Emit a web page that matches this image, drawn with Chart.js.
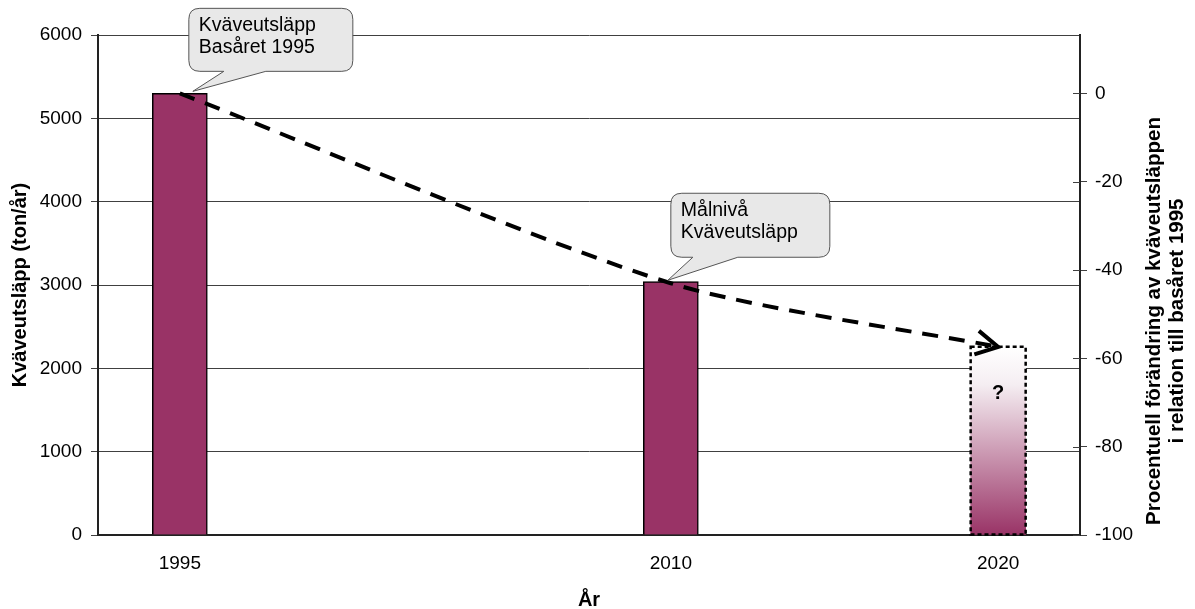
<!DOCTYPE html>
<html>
<head>
<meta charset="utf-8">
<script src="https://cdn.jsdelivr.net/npm/chart.js@4/dist/chart.umd.min.js"></script>
<style>
  html, body { margin: 0; padding: 0; background: #fff; }
  canvas { display: block; }
</style>
</head>
<body>
<canvas id="kvaveChart" width="1195" height="609"></canvas>
<script>
// Kväveutsläpp per år (ton/år)
const years = [1995, 2010, 2020];
const utslapp = [5300, 3040];
const prognos2020 = [2260];
// Procentuell förändring mot basåret 1995
const forandring = [0, -43, -57.4];
const vansterTicks = [0, 1000, 2000, 3000, 4000, 5000, 6000];
const hogerTicks = [-100, -80, -60, -40, -20, 0];

const FONT = "'Liberation Sans', Arial, sans-serif";
const PLOMMON = '#993366';
const LINJE = '#404040';

// högeraxeln följer vänsteraxeln: 0 % = basåret, -100 % = 0 ton
const hogerMax = (vansterTicks[vansterTicks.length - 1] / utslapp[0] - 1) * 100;

const pratbubblor = [
    { punkt: 0, text: ['Kväveutsläpp', 'Basåret 1995'], dx: 9, dy: -85, w: 164, h: 63, spets: [13, -2], fot: [35, 77] },
    { punkt: 1, text: ['Målnivå', 'Kväveutsläpp'], dx: 0, dy: -90, w: 159, h: 64, spets: [-3, -3], fot: [22, 67] }
];

function rundRekt(ctx, x, y, w, h, r) {
    ctx.moveTo(x + r, y);
    ctx.lineTo(x + w - r, y);
    ctx.quadraticCurveTo(x + w, y, x + w, y + r);
    ctx.lineTo(x + w, y + h - r);
    ctx.quadraticCurveTo(x + w, y + h, x + w - r, y + h);
}

const tillagg = {
    id: 'tillagg',
    afterDatasetsDraw(chart) {
        const ctx = chart.ctx;
        // streckad ram och frågetecken på prognosstapeln
        const stapel = chart.getDatasetMeta(1).data[0];
        const { x, y, base, width } = stapel.getProps(['x', 'y', 'base', 'width'], true);
        ctx.save();
        ctx.setLineDash([4, 3]);
        ctx.lineWidth = 2.5;
        ctx.strokeStyle = '#000';
        ctx.strokeRect(x - width / 2, y, width, base - y);
        ctx.setLineDash([]);
        ctx.fillStyle = '#000';
        ctx.font = 'bold 20px ' + FONT;
        ctx.textAlign = 'center';
        ctx.textBaseline = 'middle';
        ctx.fillText('?', x, y + 47);

        // pilspets i slutet av trendlinjen
        const pts = chart.getDatasetMeta(2).data;
        const slut = pts[pts.length - 1];
        const vinkel = Math.atan2(slut.y - slut.cp1y, slut.x - slut.cp1x);
        const len = 25;
        ctx.lineWidth = 4;
        ctx.lineCap = 'butt';
        ctx.lineJoin = 'miter';
        ctx.beginPath();
        ctx.moveTo(slut.x - len * Math.cos(vinkel - 0.5), slut.y - len * Math.sin(vinkel - 0.5));
        ctx.lineTo(slut.x, slut.y);
        ctx.lineTo(slut.x - len * Math.cos(vinkel + 0.5), slut.y - len * Math.sin(vinkel + 0.5));
        ctx.stroke();
        ctx.restore();
    },
    afterDraw(chart) {
        const ctx = chart.ctx;
        const area = chart.chartArea;
        const y2 = chart.scales.y2;
        ctx.save();

        // korta markeringar innanför högeraxeln
        ctx.strokeStyle = LINJE;
        ctx.lineWidth = 1;
        y2.ticks.forEach(t => {
            const py = Math.round(y2.getPixelForValue(t.value)) + 0.5;
            ctx.beginPath();
            ctx.moveTo(area.right - 7, py);
            ctx.lineTo(area.right, py);
            ctx.stroke();
        });

        // pratbubblor
        const pts = chart.getDatasetMeta(2).data;
        pratbubblor.forEach(b => {
            const p = pts[b.punkt];
            const bx = p.x + b.dx, by = p.y + b.dy, r = 11;
            ctx.beginPath();
            rundRekt(ctx, bx, by, b.w, b.h, r);
            ctx.lineTo(bx + b.fot[1], by + b.h);
            ctx.lineTo(p.x + b.spets[0], p.y + b.spets[1]);
            ctx.lineTo(bx + b.fot[0], by + b.h);
            ctx.lineTo(bx + r, by + b.h);
            ctx.quadraticCurveTo(bx, by + b.h, bx, by + b.h - r);
            ctx.lineTo(bx, by + r);
            ctx.quadraticCurveTo(bx, by, bx + r, by);
            ctx.closePath();
            ctx.fillStyle = '#e8e8e8';
            ctx.fill();
            ctx.strokeStyle = '#555';
            ctx.lineWidth = 1;
            ctx.stroke();
            ctx.fillStyle = '#000';
            ctx.font = '19.5px ' + FONT;
            ctx.textAlign = 'left';
            ctx.textBaseline = 'alphabetic';
            ctx.fillText(b.text[0], bx + 10, by + 23);
            ctx.fillText(b.text[1], bx + 10, by + 45);
        });

        // titel för högeraxeln, läses nerifrån och upp
        ctx.translate(1166, 321);
        ctx.rotate(-Math.PI / 2);
        ctx.font = 'bold 20.5px ' + FONT;
        ctx.textAlign = 'center';
        ctx.textBaseline = 'middle';
        ctx.fillText('Procentuell förändring av kväveutsläppen', 0, -11.5);
        ctx.fillText('i relation till basåret 1995', 0, 11.5);
        ctx.restore();
    }
};

new Chart(document.getElementById('kvaveChart'), {
    type: 'bar',
    data: {
        datasets: [{
            label: 'Kväveutsläpp',
            data: utslapp.map((v, i) => ({ x: years[i], y: v })),
            backgroundColor: PLOMMON,
            borderColor: '#000',
            borderWidth: 1.5,
            barThickness: 55,
            grouped: false,
            yAxisID: 'y',
            order: 2
        }, {
            label: 'Prognos 2020',
            data: prognos2020.map(v => ({ x: years[2], y: v })),
            backgroundColor(context) {
                const chart = context.chart;
                const ys = chart.scales.y;
                if (!chart.chartArea || !ys) return PLOMMON;
                const topp = ys.getPixelForValue(prognos2020[0]);
                const botten = ys.getPixelForValue(0);
                const g = chart.ctx.createLinearGradient(0, topp, 0, botten);
                g.addColorStop(0, '#ffffff');
                g.addColorStop(0.2, '#f5eef2');
                g.addColorStop(1, PLOMMON);
                return g;
            },
            borderWidth: 0,
            barThickness: 55,
            grouped: false,
            yAxisID: 'y',
            order: 2
        }, {
            type: 'line',
            label: 'Förändring',
            data: forandring.map((v, i) => ({ x: years[i], y: v })),
            borderColor: '#000',
            borderWidth: 4,
            borderDash: [16, 11],
            borderCapStyle: 'butt',
            tension: 0.25,
            pointRadius: 0,
            fill: false,
            yAxisID: 'y2',
            order: 0
        }]
    },
    options: {
        responsive: false,
        animation: false,
        layout: { padding: { top: 35, left: 0, right: 0, bottom: 0 } },
        plugins: {
            legend: { display: false },
            tooltip: { enabled: false }
        },
        scales: {
            x: {
                type: 'linear',
                min: 1992.5,
                max: 2022.5,
                offset: false,
                afterBuildTicks(scale) { scale.ticks = years.map(v => ({ value: v })); },
                afterFit(scale) { scale.height = 74; },
                grid: { display: false, drawTicks: false },
                border: { display: true, color: '#222', width: 2 },
                ticks: {
                    color: '#000',
                    font: { family: FONT, size: 19 },
                    padding: 17,
                    maxRotation: 0,
                    callback: v => String(v)
                },
                title: {
                    display: true,
                    text: 'År',
                    color: '#000',
                    font: { family: FONT, size: 20, weight: 'bold' },
                    padding: { top: 0, bottom: -3 }
                }
            },
            y: {
                position: 'left',
                min: 0,
                max: vansterTicks[vansterTicks.length - 1],
                afterBuildTicks(scale) { scale.ticks = vansterTicks.map(v => ({ value: v })); },
                afterFit(scale) { scale.width = 98; },
                grid: { color: LINJE, lineWidth: 1, tickLength: 7, tickColor: LINJE },
                border: { display: true, color: '#222', width: 2 },
                ticks: {
                    color: '#000',
                    font: { family: FONT, size: 19 },
                    padding: 9,
                    callback: v => String(v)
                },
                title: {
                    display: true,
                    text: 'Kväveutsläpp (ton/år)',
                    color: '#000',
                    font: { family: FONT, size: 20, weight: 'bold' },
                    padding: { top: 8, bottom: 0 }
                }
            },
            y2: {
                position: 'right',
                min: -100,
                max: hogerMax,
                afterBuildTicks(scale) { scale.ticks = hogerTicks.map(v => ({ value: v })); },
                afterFit(scale) { scale.width = 115; },
                grid: { drawOnChartArea: false, tickLength: 7, color: LINJE },
                border: { display: true, color: '#222', width: 2 },
                ticks: {
                    color: '#000',
                    font: { family: FONT, size: 19 },
                    padding: 8,
                    callback: v => String(v)
                }
            }
        }
    },
    plugins: [tillagg]
});
</script>
</body>
</html>
